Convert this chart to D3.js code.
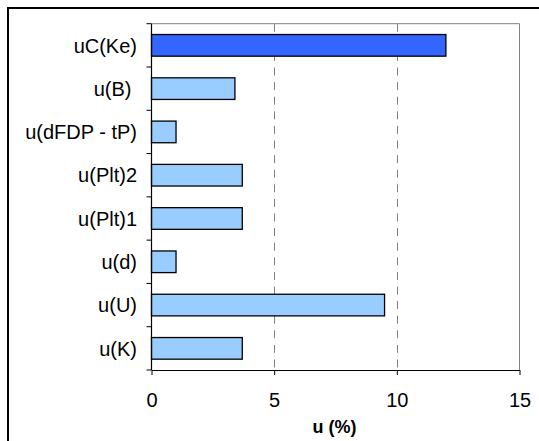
<!DOCTYPE html>
<html>
<head>
<meta charset="utf-8">
<script src="https://cdn.jsdelivr.net/npm/d3@7"></script>
<style>
  html, body { margin: 0; padding: 0; background: #fff; }
  svg { display: block; }
  text { font-family: "Liberation Sans", Arial, sans-serif; fill: #000; white-space: pre; }
</style>
</head>
<body>
<svg id="chart" width="539" height="441"></svg>
<script>
const categories = ["uC(Ke)", "u(B) ", "u(dFDP - tP)", "u(Plt)2", "u(Plt)1", "u(d)", "u(U)", "u(K)"];
const values = [12, 3.4, 1, 3.7, 3.7, 1, 9.5, 3.7];
const highlight = [true, false, false, false, false, false, false, false];
const xTicks = [0, 5, 10, 15];
const gridTicks = [5, 10];
const xTitle = "u (%)";

const svg = d3.select("#chart");
const plot = { left: 151.5, right: 519.5, top: 23.7, bottom: 370 };

// outer frame (extends past right/bottom edge)
svg.append("rect")
  .attr("x", 8).attr("y", 8).attr("width", 560).attr("height", 460)
  .attr("fill", "none").attr("stroke", "#000").attr("stroke-width", 2);

const x = d3.scaleLinear().domain([0, 15]).range([plot.left, plot.right]);
const y = d3.scaleBand().domain(categories).range([plot.top, plot.bottom])
  .paddingInner(0.5).paddingOuter(0.25);

// plot area border (top and right, gray)
svg.append("path")
  .attr("d", `M${plot.left},${plot.top}H${plot.right}V${plot.bottom}`)
  .attr("fill", "none").attr("stroke", "#808080").attr("stroke-width", 1);

// gridlines
svg.append("g").selectAll("line").data(gridTicks).join("line")
  .attr("x1", d => Math.round(x(d)) + 0.5).attr("x2", d => Math.round(x(d)) + 0.5)
  .attr("y1", plot.top).attr("y2", plot.bottom)
  .attr("stroke", "#808080").attr("stroke-width", 1)
  .attr("stroke-dasharray", "8,6.6");

// bars
svg.append("g").selectAll("rect").data(categories).join("rect")
  .attr("x", x(0))
  .attr("y", d => y(d))
  .attr("width", (d, i) => x(values[i]) - x(0))
  .attr("height", y.bandwidth())
  .attr("fill", (d, i) => highlight[i] ? "#3366FF" : "#99CCFF")
  .attr("stroke", "#000").attr("stroke-width", 1.3);

// y axis
const yAxis = svg.append("g");
yAxis.append("line")
  .attr("x1", plot.left).attr("x2", plot.left)
  .attr("y1", plot.top).attr("y2", plot.bottom)
  .attr("stroke", "#000").attr("stroke-width", 1.2);
const step = y.step();
const boundaries = d3.range(categories.length + 1).map(i => plot.top + i * (plot.bottom - plot.top) / categories.length);
yAxis.selectAll("line.tick").data(boundaries).join("line")
  .attr("class", "tick")
  .attr("x1", plot.left - 5).attr("x2", plot.left)
  .attr("y1", d => d).attr("y2", d => d)
  .attr("stroke", "#000").attr("stroke-width", 1);
yAxis.selectAll("text").data(categories).join("text")
  .attr("x", 137)
  .attr("y", d => y(d) + y.bandwidth() / 2)
  .attr("dy", "0.36em")
  .attr("text-anchor", "end")
  .attr("font-size", 20)
  .text(d => d);

// x axis
const xAxis = svg.append("g").attr("transform", `translate(0,${plot.bottom})`)
  .call(d3.axisBottom(x).tickValues(xTicks).tickSize(5).tickSizeOuter(0).tickFormat(d3.format("d")));
xAxis.select(".domain").attr("stroke", "#000").attr("stroke-width", 1.2);
xAxis.selectAll(".tick line").attr("stroke", "#000");
xAxis.selectAll(".tick text")
  .attr("y", 36.5).attr("dy", 0)
  .attr("font-size", 20)
  .attr("font-family", "Liberation Sans, Arial, sans-serif")
  .attr("fill", "#000");

// x title
svg.append("text")
  .attr("x", (plot.left + plot.right) / 2 - 1)
  .attr("y", 433)
  .attr("text-anchor", "middle")
  .attr("font-size", 18)
  .attr("font-weight", "bold")
  .text(xTitle);
</script>
</body>
</html>
